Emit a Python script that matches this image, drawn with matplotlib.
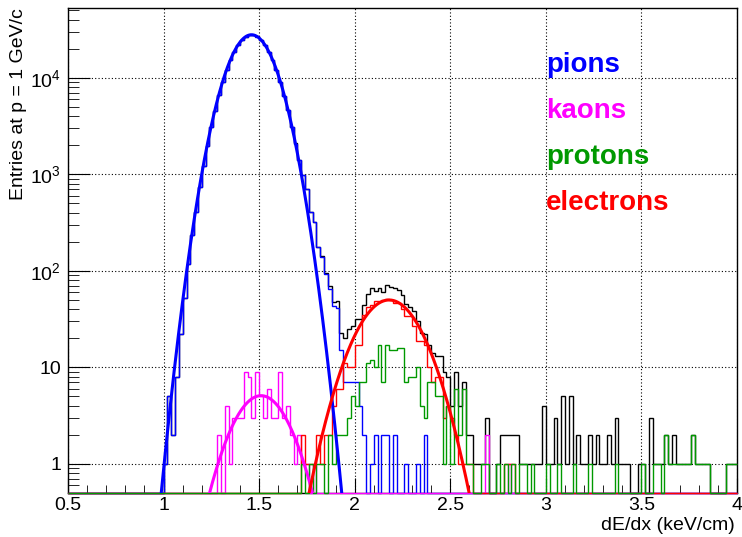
import numpy as np
import matplotlib.pyplot as plt
from matplotlib.ticker import FixedLocator, FixedFormatter, LogLocator, MultipleLocator, NullFormatter

plt.rcParams['font.family'] = ['Liberation Sans', 'DejaVu Sans']
plt.rcParams['font.size'] = 14

# --- histogram binning: 0.02 keV/cm bins between 0.5 and 4 ---
x_lo, x_hi, n_bins = 0.5, 4.0, 175

# entries per bin, listed from the first filled bin onwards
pion_first = 25
pion_counts = [1, 5, 2, 8, 22, 52, 118, 236, 405, 742,
               1215, 1960, 3120, 4580, 6640, 9030, 12080, 15210, 18750, 21850,
               24790, 26710, 27930, 27820, 26850, 24680, 21990, 18590, 15380, 12120,
               9150, 6560, 4680, 3130, 2090, 1420, 980, 700, 410, 320,
               176, 140, 94, 65, 43, 41, 15, 7, 7, 7,
               7, 4, 2, 0, 1, 2, 0, 2, 2, 0,
               2, 0, 0, 1, 0, 0, 1, 0, 2]

kaon_first = 39
kaon_counts = ([2, 0, 4, 1, 3, 3, 3, 9, 8, 3,
                9, 5, 3, 6, 3, 3, 9, 3, 4, 2,
                1, 2, 1, 1, 0, 1]
               + [0] * 44 + [2] + [0] * 5 + [1])

proton_first = 61
proton_counts = [1, 0, 1, 0, 1, 1, 0, 2, 1, 2,
                 2, 2, 3, 5, 4, 7, 7, 11, 12, 10,
                 17, 7, 17, 15, 15, 16, 16, 7, 8, 8,
                 10, 4, 3, 7, 7, 5, 5, 1, 4, 1,
                 6, 2, 6, 1, 1, 0, 0, 1, 1, 0,
                 0, 1, 0, 1, 0, 1, 0, 1, 1, 0,
                 1, 0, 0, 0, 1, 0, 0, 1, 0, 0,
                 0, 1, 0, 0, 0, 1, 0, 0, 0, 0,
                 0, 0, 1, 0, 0, 0, 0, 0, 0, 1,
                 0, 0, 1, 1, 0, 2, 1, 1, 1, 1,
                 1, 1, 2, 1, 1, 1, 1, 0, 0, 0,
                 0, 1, 1, 1]

electron_first = 61
electron_counts = [2, 1, 1, 1, 2, 1, 2, 2, 4, 6,
                   6, 11, 10, 10, 17, 17, 35, 42, 44, 49,
                   49, 50, 51, 50, 47, 47, 40, 34, 34, 27,
                   19, 19, 17, 10, 7, 8, 8, 3, 4, 3,
                   2, 1, 1, 1, 1, 0, 0, 0, 0, 0,
                   0, 0, 0, 1, 1, 1]

total_first = 25
total_counts = [1, 5, 2, 8, 22, 52, 118, 236, 405, 742,
                1215, 1960, 3120, 4580, 6642, 9030, 12084, 15211, 18753, 21853,
                24793, 26719, 27938, 27823, 26859, 24685, 21993, 18596, 15383, 12123,
                9159, 6563, 4684, 3132, 2091, 1422, 984, 702, 412, 322,
                179, 142, 96, 69, 48, 49, 23, 20, 25, 27,
                32, 32, 44, 57, 67, 62, 66, 60, 72, 68,
                67, 64, 56, 45, 42, 38, 30, 23, 22, 17,
                14, 13, 13, 9, 8, 4, 9, 4, 7, 2,
                2, 1, 1, 1, 3, 0, 0, 1, 2, 2,
                2, 2, 2, 1, 1, 1, 1, 1, 1, 4,
                1, 1, 3, 1, 5, 1, 5, 1, 2, 1,
                1, 2, 1, 2, 1, 1, 2, 1, 3, 1,
                1, 1, 0, 0, 1, 1, 0, 3, 1, 1,
                1, 2, 1, 2, 1, 1, 1, 1, 2, 1,
                1, 1, 1, 0, 0, 0, 0, 1, 1, 1]

# gaussian fits: (amplitude, mean, sigma) and drawing range
pion_fit, pion_range = (28000.0, 1.46, 0.101), (0.95, 1.97)
kaon_fit, kaon_range = (5.1, 1.51, 0.125), (1.20, 1.82)
electron_fit, electron_range = (50.0, 2.18, 0.138), (1.74, 2.62)

species = ['pions', 'kaons', 'protons', 'electrons']
species_colors = ['#0000ff', '#ff00ff', '#009900', '#ff0000']

y_lo, y_hi = 0.5, 5.3e4

edges = np.linspace(x_lo, x_hi, n_bins + 1)


def full_hist(first, counts):
    h = np.zeros(n_bins)
    h[first:first + len(counts)] = counts
    # empty bins sit on the bottom of the log frame
    return np.where(h > 0, h, y_lo)


def gauss(x, p):
    a, m, s = p
    return a * np.exp(-0.5 * ((x - m) / s) ** 2)


fig = plt.figure(figsize=(7.42, 5.37), dpi=100)
ax = fig.add_axes([68 / 742, 44 / 537, 669 / 742, 485 / 537])
ax.set_yscale('log')
ax.set_xlim(x_lo, x_hi)
ax.set_ylim(y_lo, y_hi)

hist_kw = dict(lw=1.0, baseline=None, clip_on=False)
ax.stairs(full_hist(total_first, total_counts), edges, color='black', zorder=3, **hist_kw)
ax.stairs(full_hist(pion_first, pion_counts), edges, color=species_colors[0], zorder=3, **hist_kw)
ax.stairs(full_hist(kaon_first, kaon_counts), edges, color=species_colors[1], zorder=3, **hist_kw)
ax.stairs(full_hist(electron_first, electron_counts), edges, color=species_colors[3], zorder=3, **hist_kw)
ax.stairs(full_hist(proton_first, proton_counts), edges, color=species_colors[2], zorder=3, **hist_kw)

# fitted curves on top of the histograms
for fit, rng, col in [(pion_fit, pion_range, species_colors[0]),
                      (kaon_fit, kaon_range, species_colors[1]),
                      (electron_fit, electron_range, species_colors[3])]:
    xf = np.linspace(rng[0], rng[1], 400)
    ax.plot(xf, gauss(xf, fit), color=col, lw=2.2, zorder=4)

# axes styling
ax.set_xticks([0.5, 1, 1.5, 2, 2.5, 3, 3.5, 4])
ax.set_xticklabels(['0.5', '1', '1.5', '2', '2.5', '3', '3.5', '4'])
ax.xaxis.set_minor_locator(MultipleLocator(0.1))

ax.yaxis.set_major_locator(FixedLocator([1, 10, 1e2, 1e3, 1e4]))
ax.yaxis.set_major_formatter(FixedFormatter(['1', '10', r'$\mathregular{10^{2}}$',
                                             r'$\mathregular{10^{3}}$', r'$\mathregular{10^{4}}$']))
ax.yaxis.set_minor_locator(LogLocator(base=10, subs=np.arange(2, 10), numticks=20))
ax.yaxis.set_minor_formatter(NullFormatter())

ax.tick_params(axis='both', which='both', direction='in', top=False, right=False, labelsize=14)
ax.tick_params(axis='y', which='major', length=16, pad=5)
ax.tick_params(axis='y', which='minor', length=8)
ax.tick_params(axis='x', which='major', length=11, pad=3)
ax.tick_params(axis='x', which='minor', length=5.5)

ax.grid(True, which='major', color='black', ls=(0, (1, 2)), lw=0.8)
ax.set_axisbelow(True)
for sp in ax.spines.values():
    sp.set_linewidth(1.0)
    sp.set_zorder(2.5)

fig.text(735 / 742, 3 / 537, 'dE/dx (keV/cm)', ha='right', va='bottom', fontsize=14)
fig.text(19 / 742, 1 - 8 / 537, 'Entries at p = 1 GeV/c', ha='center', va='top',
         rotation=90, fontsize=14)

# species legend as coloured labels (x in data units, y in axes fraction)
label_y = [0.868, 0.773, 0.678, 0.584]
for name, col, yy in zip(species, species_colors, label_y):
    ax.text(3.0, yy, name, color=col, fontsize=20, fontweight='bold',
            transform=ax.get_xaxis_transform(), ha='left', va='baseline', zorder=5)

fig.savefig('out.png', dpi=100)
